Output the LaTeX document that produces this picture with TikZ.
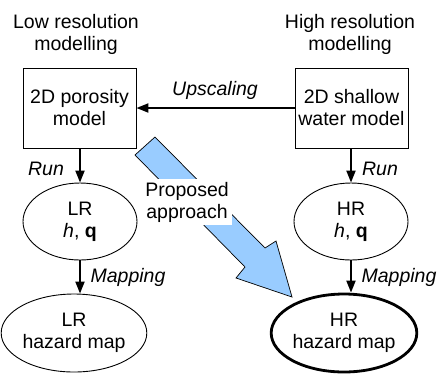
\documentclass[tikz,border=0pt]{standalone}
\usepackage{fontspec}
\setmainfont{Liberation Sans}
\usetikzlibrary{arrows.meta,shapes.geometric}
\definecolor{propblue}{RGB}{153,204,255}
\begin{document}
\begin{tikzpicture}[x=1pt,y=-1pt,
  every node/.style={font=\fontsize{19.5}{22}\selectfont, align=center, inner sep=0pt},
  modelbox/.style={draw, line width=0.9pt, minimum width=113pt, minimum height=80pt},
  resell/.style={draw, ellipse, line width=0.9pt},
  conn/.style={line width=2pt, -{Triangle[length=12pt,width=9pt]}},
  lab/.style={anchor=base, font=\fontsize{19.5}{22}\selectfont\itshape}]
\useasboundingbox (0,0) rectangle (441,373);
% titles
\node (tl) at (76,34) {Low resolution\\modelling};
\node (tr) at (350,34) {High resolution\\modelling};
% boxes
\node[modelbox] (bl) at (79.5,108) {2D porosity\\model};
\node[modelbox] (br) at (351.5,108) {2D shallow\\water model};
% ellipses
\node[resell, minimum width=114pt, minimum height=77pt] (lrm) at (80,221.5) {LR\\\textit{h}, \textbf{q}};
\node[resell, minimum width=114pt, minimum height=77pt] (hrm) at (351,221.5) {HR\\\textit{h}, \textbf{q}};
\node[resell, minimum width=124pt, minimum height=78pt] (lrh) at (74,333) {LR\\hazard map};
\node[resell, line width=2.8pt, minimum width=132pt, minimum height=78pt] (hrh) at (344,333) {HR\\hazard map};
% proposed approach block arrow
\fill[propblue, draw=black, line width=0.7pt, line join=miter]
  (155,137) -- (265,248) -- (276,241) -- (292,297) -- (236,278) -- (245,267) -- (135,155) -- cycle;
\node[fill=white, inner xsep=3pt, inner ysep=3pt] (pa) at (187,202) {Proposed\\approach};
% connectors
\draw[conn] (br.west) -- (bl.east);
\draw[conn] (bl.south -| lrm.north) -- (lrm.north);
\draw[conn] (br.south -| hrm.north) -- (hrm.north);
\draw[conn] (lrm.south) -- (lrm.south |- lrh.north);
\draw[conn] (hrm.south) -- (hrm.south |- hrh.north);
% labels
\node[lab] (up) at (215,95) {Upscaling};
\node[lab] (runl) at (46,175) {Run};
\node[lab] (runr) at (380,175) {Run};
\node[lab] (mapl) at (128,282) {Mapping};
\node[lab] (mapr) at (399,282) {Mapping};
\end{tikzpicture}
\end{document}
